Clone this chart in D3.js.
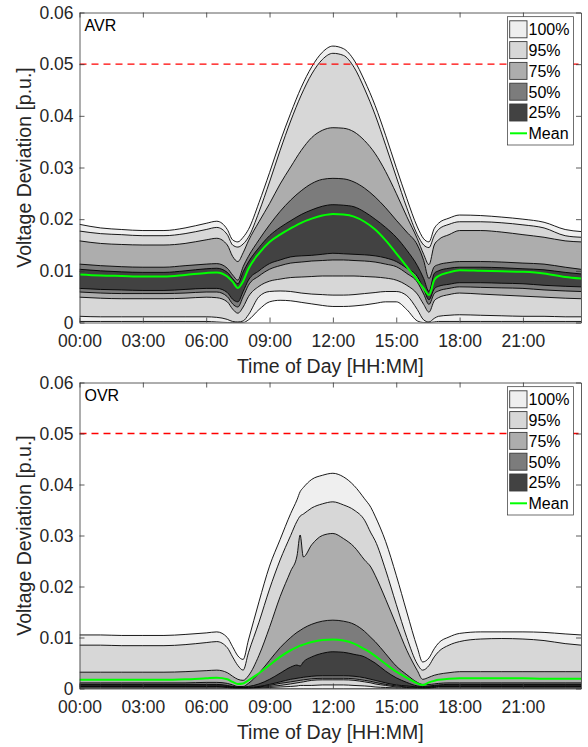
<!DOCTYPE html>
<html><head><meta charset="utf-8">
<script src="https://cdn.jsdelivr.net/npm/d3@7"></script>
<style>
body{margin:0;background:#fff}
svg{display:block}
text{font-family:"Liberation Sans",Arial,Helvetica,sans-serif}
</style>
</head><body>
<svg id="chart" width="588" height="747"></svg>
<script>
// ---------- DATA ----------
const avrHours = [0,1,2,3,4,5,6,6.5,7,7.25,7.5,7.75,8,8.5,9,9.5,10,10.5,11,11.5,12,12.5,13,13.5,14,14.5,15,15.5,16,16.3,16.55,16.8,17,17.5,18,19,20,21,22,23,23.75];
const avrU100 = [.0190,.0183,.0180,.0178,.0178,.0183,.0192, .0196,.0180,.0160,.0156,.0165, .0180,.0232,.0290,.0350,.0405,.0455,.0495,.0523,.0535, .0530,.0508,.0468,.0420,.0362,.0300,.0240,.0185, .0162,.0156,.0182,.0192,.0202,.0208, .0207,.0204,.0200,.0194,.0180,.0176];
const avrU95  = [.0177,.0172,.0170,.0168,.0168,.0172,.0180, .0184,.0170,.0150,.0146,.0152, .0165,.0214,.0272,.0333,.0390,.0440,.0481,.0509,.0521, .0517,.0494,.0452,.0402,.0343,.0282,.0222,.0170, .0150,.0145,.0168,.0180,.0190,.0195, .0195,.0193,.0189,.0183,.0168,.0165];
const avrU75  = [.0158,.0153,.0151,.0150,.0150,.0153,.0160, .0163,.0150,.0128,.0118,.0135, .0158,.0195,.0230,.0268,.0301,.0333,.0358,.0372,.0377, .0376,.0369,.0352,.0327,.0292,.0250,.0205,.0162, .0132,.0112,.0150,.0160,.0170,.0178, .0178,.0175,.0170,.0165,.0158,.0156];
const avrU50  = [.0113,.0110,.0108,.0107,.0107,.0110,.0113, .0114,.0105,.0092,.0082,.0108, .0128,.0160,.0189,.0215,.0237,.0255,.0269,.0277,.0279, .0278,.0272,.0260,.0243,.0222,.0198,.0175,.0150, .0120,.0085,.0108,.0112,.0116,.0118, .0118,.0117,.0115,.0113,.0107,.0103];
const avrU25  = [.0103,.0100,.0098,.0097,.0097,.0100,.0104, .0105,.0097,.0085,.0075,.0098, .0117,.0145,.0168,.0184,.0197,.0209,.0218,.0225,.0228, .0227,.0224,.0214,.0200,.0184,.0165,.0140,.0110, .0085,.0060,.0095,.0100,.0105,.0107, .0107,.0106,.0104,.0102,.0097,.0094];
const avrMean = [.0093,.0091,.0090,.0089,.0089,.0092,.0096, .0097,.0089,.0079,.0067,.0080, .0104,.0134,.0156,.0170,.0182,.0193,.0201,.0207,.0210, .0209,.0205,.0195,.0180,.0159,.0134,.0108,.0082, .0066,.0053,.0082,.0090,.0097,.0101, .0100,.0099,.0098,.0095,.0088,.0085];
const avrL25  = [.0066,.0064,.0063,.0062,.0062,.0064,.0066, .0066,.0058,.0045,.0040,.0060, .0082,.0100,.0114,.0121,.0127,.0129,.0130,.0132,.0134, .0133,.0132,.0131,.0129,.0125,.0118,.0105,.0089, .0065,.0044,.0065,.0070,.0074,.0077, .0077,.0076,.0075,.0072,.0070,.0069];
const avrL50  = [.0059,.0057,.0056,.0056,.0056,.0057,.0059, .0059,.0050,.0036,.0030,.0050, .0072,.0090,.0103,.0110,.0115,.0117,.0119,.0120,.0121, .0121,.0120,.0119,.0117,.0113,.0108,.0095,.0078, .0055,.0035,.0056,.0061,.0066,.0069, .0068,.0067,.0066,.0063,.0061,.0060];
const avrL75  = [.0049,.0047,.0046,.0046,.0046,.0047,.0049, .0048,.0040,.0026,.0018,.0030, .0050,.0070,.0080,.0084,.0087,.0088,.0089,.0090,.0090, .0090,.0090,.0089,.0088,.0086,.0082,.0072,.0055, .0035,.0020,.0042,.0048,.0054,.0057, .0055,.0053,.0051,.0049,.0047,.0046];
const avrL95  = [.0012,.0011,.0011,.0011,.0011,.0011,.0011, .0010,.0006,.0002,.0001,.0003, .0015,.0050,.0060,.0061,.0060,.0057,.0055,.0054,.0053, .0053,.0054,.0056,.0058,.0060,.0060,.0052,.0025, .0005,.0001,.0008,.0012,.0014,.0015, .0014,.0013,.0012,.0012,.0011,.0011];
const avrL100 = [.0002,.0002,.0002,.0002,.0002,.0002,.0002, .0001,0,0,0,0, .0005,.0025,.0040,.0043,.0042,.0039,.0036,.0033,.0031, .0031,.0032,.0034,.0037,.0040,.0040,.0025,.0003, 0,0,.0001,.0002,.0002,.0002, .0002,.0002,.0002,.0002,.0002,.0002];

const ovrHours = [0,1,2,3,4,5,6,6.5,7,7.25,7.5,7.75,8,8.5,9,9.5,10,10.3,10.45,10.6,11,11.5,12,12.5,13,13.5,13.8,14,14.5,15,15.5,16,16.25,16.55,16.8,17,17.5,18,19,20,21,22,23,23.75];
const ovrU100 = [.0105,.0105,.0104,.0104,.0104,.0106,.0109,.0111, .0100,.0082,.0064,.0057, .0095,.0170,.0240,.0292, .0343,.0370,.0386,.0394, .0410,.0418,.0422,.0415, .0398,.0372,.0355,.0338, .0288,.0222,.0150,.0080, .0052,.0060,.0078,.0089, .0101,.0108,.0111,.0111, .0111,.0110,.0107,.0105];
const ovrU95  = [.0085,.0085,.0084,.0084,.0084,.0086,.0090,.0092, .0080,.0062,.0045,.0036, .0070,.0130,.0195,.0252, .0300,.0328,.0338,.0342, .0354,.0362,.0366,.0360, .0350,.0330,.0305,.0290, .0232,.0165,.0100,.0048, .0036,.0045,.0062,.0072, .0085,.0092,.0097,.0098, .0097,.0094,.0088,.0085];
const ovrU75  = [.0032,.0032,.0032,.0032,.0032,.0033,.0035,.0036, .0031,.0024,.0018,.0016, .0025,.0065,.0120,.0180, .0230,.0260,.0301,.0258, .0282,.0300,.0304,.0294, .0278,.0252,.0238,.0222, .0175,.0125,.0075,.0035, .0018,.0022,.0026,.0028, .0031,.0033,.0033,.0033, .0033,.0033,.0033,.0033];
const ovrU50  = [.0011,.0011,.0011,.0011,.0011,.0011,.0012,.0012, .0010,.0007,.0004,.0004, .0010,.0030,.0055,.0080, .0100,.0110,.0114,.0118, .0126,.0132,.0134,.0132, .0126,.0112,.0100,.0092, .0068,.0044,.0027,.0012, .0008,.0008,.0009,.0010, .0011,.0011,.0011,.0011, .0011,.0011,.0011,.0011];
const ovrU25  = [.0008,.0008,.0008,.0008,.0008,.0008,.0008,.0008, .0006,.0004,.0003,.0003, .0004,.0009,.0018,.0030, .0042,.0046,.0044,.0052, .0062,.0069,.0072,.0071, .0067,.0062,.0055,.0050, .0034,.0021,.0012,.0005, .0004,.0005,.0006,.0007, .0008,.0008,.0008,.0008, .0008,.0008,.0008,.0008];
const ovrMean = [.0017,.0017,.0017,.0017,.0017,.0018,.0020,.0021, .0018,.0013,.0009,.0010, .0016,.0030,.0046,.0062, .0075,.0081,.0084,.0086, .0091,.0095,.0096,.0094, .0088,.0077,.0070,.0064, .0048,.0033,.0021,.0010, .0007,.0012,.0015,.0017, .0019,.0020,.0020,.0020, .0020,.0019,.0019,.0019];
const ovrL25  = [.0005,.0005,.0005,.0005,.0005,.0005,.0005,.0005, .0004,.0003,.0002,.0002, .0002,.0004,.0008,.0013, .0018,.0020,.0021,.0022, .0024,.0025,.0025,.0025, .0024,.0021,.0018,.0016, .0011,.0007,.0005,.0003, .0002,.0003,.0004,.0005, .0005,.0005,.0005,.0005, .0005,.0005,.0005,.0005];
const ovrL50  = [.0004,.0004,.0004,.0004,.0004,.0004,.0004,.0004, .0003,.0002,.0001,.0001, .0001,.0003,.0006,.0010, .0013,.0015,.0016,.0017, .0019,.0020,.0020,.0020, .0019,.0016,.0014,.0012, .0008,.0005,.0003,.0002, .0001,.0002,.0003,.0004, .0004,.0004,.0004,.0004, .0004,.0004,.0004,.0004];
const ovrL75  = [.0003,.0003,.0003,.0003,.0003,.0003,.0003,.0003, .0002,.0001,.0001,.0001, .0001,.0002,.0004,.0006, .0009,.0011,.0012,.0013, .0016,.0017,.0017,.0017, .0016,.0013,.0011,.0009, .0006,.0003,.0002,.0001, .0001,.0001,.0002,.0003, .0003,.0003,.0003,.0003, .0003,.0003,.0003,.0003];
const ovrL95  = [.0001,.0001,.0001,.0001,.0001,.0001,.0001,.0001, .0001,0,0,0, 0,.0001,.0002,.0003, .0004,.0005,.0006,.0006, .0006,.0007,.0007,.0007, .0006,.0005,.0004,.0003, .0002,.0001,0,0, 0,0,.0001,.0001, .0001,.0001,.0001,.0001, .0001,.0001,.0001,.0001];
const ovrL100 = [0,0,0,0,0,0,0,0, 0,0,0,0, 0,0,0,0, 0,0,0,0, 0,0,0,0, 0,0,0,0, 0,0,0,0, 0,0,0,0, 0,0,0,0, 0,0,0,0];

const bandLabels = ["100%","95%","75%","50%","25%"];
const meanLabel = "Mean";
const panelTitles = ["AVR","OVR"];
const limitValue = 0.05;
const yTicks = [0,0.01,0.02,0.03,0.04,0.05,0.06];
const yTickLabels = ["0","0.01","0.02","0.03","0.04","0.05","0.06"];
const xTicks = [0,3,6,9,12,15,18,21];
const xTickLabels = ["00:00","03:00","06:00","09:00","12:00","15:00","18:00","21:00"];
const xLabel = "Time of Day [HH:MM]";
const yLabel = "Voltage Deviation [p.u.]";

// ---------- STYLE ----------
const bandFills = ["#efefef","#d7d7d7","#adadad","#7c7c7c","#424242"];
const axisColor = "#333";

const panels = [
  {title: panelTitles[0], hours: avrHours, upper:[avrU100,avrU95,avrU75,avrU50,avrU25], lower:[avrL100,avrL95,avrL75,avrL50,avrL25], mean: avrMean, top: 12.5, bottom: 322.5},
  {title: panelTitles[1], hours: ovrHours, upper:[ovrU100,ovrU95,ovrU75,ovrU50,ovrU25], lower:[ovrL100,ovrL95,ovrL75,ovrL50,ovrL25], mean: ovrMean, top: 382.5, bottom: 688.5}
];

const svg = d3.select("#chart");
const left = 79.5, right = 581;

panels.forEach((p, pi) => {
  const g = svg.append("g");
  const x = d3.scaleLinear().domain([0, 23.75]).range([left, right]);
  const y = d3.scaleLinear().domain([0, 0.06]).range([p.bottom, p.top]);

  const clipId = "clip" + pi;
  g.append("clipPath").attr("id", clipId).append("rect")
    .attr("x", left).attr("y", p.top).attr("width", right-left).attr("height", p.bottom-p.top);
  const plot = g.append("g").attr("clip-path", `url(#${clipId})`);

  const idx = d3.range(p.hours.length);
  p.upper.forEach((up, b) => {
    const lo = p.lower[b];
    const area = d3.area().curve(d3.curveMonotoneX)
      .x(i => x(p.hours[i])).y0(i => y(lo[i])).y1(i => y(up[i]));
    plot.append("path").attr("d", area(idx)).attr("fill", bandFills[b]).attr("stroke", "none");
    [up, lo].forEach(arr => {
      const line = d3.line().curve(d3.curveMonotoneX).x(i => x(p.hours[i])).y(i => y(arr[i]));
      plot.append("path").attr("d", line(idx)).attr("fill", "none")
        .attr("stroke", "#000").attr("stroke-width", 0.9);
    });
  });

  const meanLine = d3.line().curve(d3.curveMonotoneX).x(i => x(p.hours[i])).y(i => y(p.mean[i]));
  plot.append("path").attr("d", meanLine(idx)).attr("fill", "none")
    .attr("stroke", "#00ff00").attr("stroke-width", 2);

  plot.append("line").attr("x1", left).attr("x2", right)
    .attr("y1", y(limitValue)).attr("y2", y(limitValue))
    .attr("stroke", "#ff0000").attr("stroke-width", 1.3).attr("stroke-dasharray", "7,5");

  // axes
  const styleAxis = sel => {
    sel.selectAll(".domain").attr("stroke", axisColor).attr("stroke-width", 0.8);
    sel.selectAll(".tick line").attr("stroke", axisColor).attr("stroke-width", 0.8);
    sel.selectAll("text").attr("fill", "#262626").style("font-size", "17.5px")
      .style("font-family", '"Liberation Sans", Arial, sans-serif');
  };
  g.append("g").attr("transform", `translate(0,${p.bottom})`)
    .call(d3.axisBottom(x).tickValues(xTicks).tickFormat((d,i) => xTickLabels[i]).tickSizeInner(-5).tickSizeOuter(0).tickPadding(12))
    .call(styleAxis);
  g.append("g").attr("transform", `translate(0,${p.top})`)
    .call(d3.axisTop(x).tickValues(xTicks).tickFormat("").tickSizeInner(-5).tickSizeOuter(0))
    .call(styleAxis);
  g.append("g").attr("transform", `translate(${left},0)`)
    .call(d3.axisLeft(y).tickValues(yTicks).tickFormat((d,i) => yTickLabels[i]).tickSizeInner(-5).tickSizeOuter(0).tickPadding(6))
    .call(styleAxis);
  g.append("g").attr("transform", `translate(${right},0)`)
    .call(d3.axisRight(y).tickValues(yTicks).tickFormat("").tickSizeInner(-5).tickSizeOuter(0))
    .call(styleAxis);

  // labels
  g.append("text").attr("x", (left+right)/2).attr("y", p.bottom + 50.5)
    .attr("text-anchor", "middle").attr("fill", "#262626").style("font-size", "19.5px").text(xLabel);
  g.append("text").attr("transform", `translate(31,${(p.top+p.bottom)/2}) rotate(-90)`)
    .attr("text-anchor", "middle").attr("fill", "#262626").style("font-size", "19.5px").text(yLabel);
  g.append("text").attr("x", 84.5).attr("y", p.top + 18.5)
    .attr("fill", "#000").style("font-size", "16px").text(p.title);

  // legend
  const lg = g.append("g");
  lg.append("rect").attr("x", 507.5).attr("y", p.top + 4.2).attr("width", 66).attr("height", 128.3)
    .attr("fill", "#fff").attr("stroke", axisColor).attr("stroke-width", 0.7);
  bandLabels.forEach((lab, b) => {
    const cy = p.top + 16.8 + b * 20.8;
    lg.append("rect").attr("x", 509.7).attr("y", cy - 8.5).attr("width", 17.3).attr("height", 17)
      .attr("fill", bandFills[b]).attr("stroke", "#3a3a3a").attr("stroke-width", 0.9);
    lg.append("text").attr("x", 528.5).attr("y", cy + 5.8).attr("fill", "#000")
      .style("font-size", "16px").text(lab);
  });
  const my = p.top + 16.8 + 5 * 20.8;
  lg.append("line").attr("x1", 510).attr("x2", 527).attr("y1", my).attr("y2", my)
    .attr("stroke", "#00ff00").attr("stroke-width", 2);
  lg.append("text").attr("x", 528.5).attr("y", my + 5.8).attr("fill", "#000")
    .style("font-size", "16px").text(meanLabel);
});
</script>
</body></html>
